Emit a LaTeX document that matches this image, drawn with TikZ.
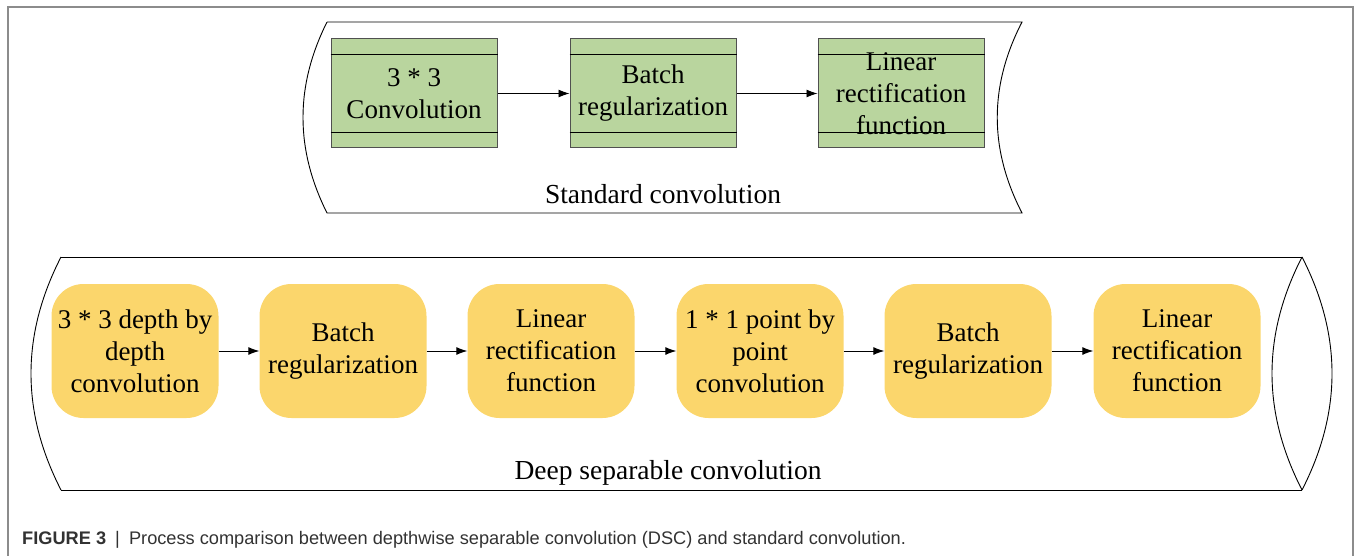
\documentclass[tikz,border=0pt]{standalone}
\usepackage{fontspec}
\setmainfont{Liberation Serif}
\newfontfamily\capfont{Liberation Sans}
\usetikzlibrary{calc,arrows.meta}
\definecolor{gbox}{RGB}{185,213,158}
\definecolor{gedge}{RGB}{80,80,80}
\definecolor{ybox}{RGB}{251,214,108}
\definecolor{frameg}{RGB}{140,140,140}
\definecolor{captxt}{RGB}{50,50,50}
\tikzset{
  greenbox/.style={draw=gedge, line width=1pt, fill=gbox, minimum width=166pt, minimum height=109pt, inner sep=0pt, align=center, font=\fontsize{27}{32}\selectfont},
  yellowbox/.style={fill=ybox, rounded corners=32pt, minimum width=167pt, minimum height=134pt, inner sep=0pt, align=center, font=\fontsize{27}{32}\selectfont},
  flow/.style={-{Latex[length=11pt,width=8pt]}, line width=0.9pt},
  container/.style={draw=black, line width=0.9pt},
  lbl/.style={font=\fontsize{27.5}{32}\selectfont, inner sep=0pt}
}
\begin{document}
\begin{tikzpicture}[x=1pt,y=-1pt]
\useasboundingbox (0,0) rectangle (1356,556);
% outer frame
\draw[frameg, line width=1.2pt] (8,556) -- (8,7) -- (1353,7) -- (1353,556);
% standard convolution container
\draw[container] (327,22) -- (1022,22) .. controls (989,86) and (989,149) .. (1022,213) -- (327,213) .. controls (295,149) and (295,86) .. (327,22);
% deep separable container
\draw[container] (61,257) -- (1302,257) (61,490) -- (1302,490);
\draw[container] (61,257) .. controls (21,335) and (21,412) .. (61,490);
\draw[container] (1302,257) .. controls (1262,335) and (1262,412) .. (1302,490);
\draw[container] (1302,257) .. controls (1342,335) and (1342,412) .. (1302,490);
% green boxes
\node[greenbox] (g1) at (414,93.5) {3 * 3\\Convolution};
\node[greenbox] (g2) at (653,93.5) {Batch\\regularization};
\node[greenbox] (g3) at (901,93.5) {Linear\\rectification\\function};
\foreach \n in {g1,g2,g3}{
  \draw[line width=0.9pt] ($(\n.north west)+(0,16)$) -- ($(\n.north east)+(0,16)$);
  \draw[line width=0.9pt] ($(\n.south west)+(0,-16)$) -- ($(\n.south east)+(0,-16)$);
}
\draw[flow] (g1) -- (g2);
\draw[flow] (g2) -- (g3);
\node[lbl] (stdlbl) at (663,194) {Standard convolution};
% yellow boxes
\node[yellowbox] (y1) at (135,351) {3 * 3 depth by\\depth\\convolution};
\node[yellowbox] (y2) at (343,351) {Batch\\regularization};
\node[yellowbox] (y3) at (551,351) {Linear\\rectification\\function};
\node[yellowbox] (y4) at (760,351) {1 * 1 point by\\point\\convolution};
\node[yellowbox] (y5) at (968,351) {Batch\\regularization};
\node[yellowbox] (y6) at (1177,351) {Linear\\rectification\\function};
\foreach \a/\b in {y1/y2,y2/y3,y3/y4,y4/y5,y5/y6}{\draw[flow] (\a) -- (\b);}
\node[lbl] (dsclbl) at (668,473) {Deep separable convolution};
% caption
\node[anchor=base west, inner sep=0pt, text=captxt, font=\capfont\fontsize{18.2}{20}\selectfont] (cap) at (22,544) {\textbf{FIGURE 3}\enspace|\enspace Process comparison between depthwise separable convolution (DSC) and standard convolution.};
\end{tikzpicture}
\end{document}
